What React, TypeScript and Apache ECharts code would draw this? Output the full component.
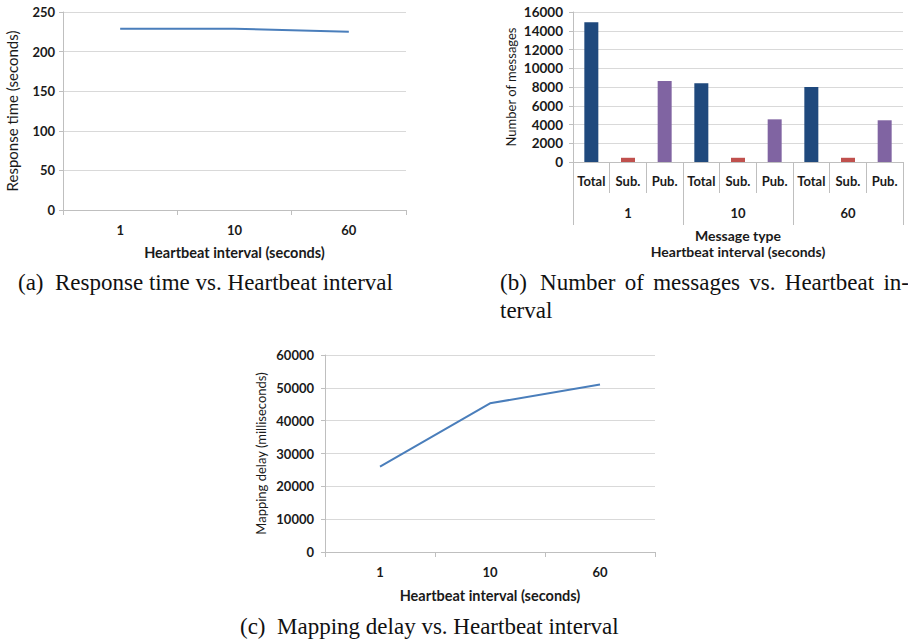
import React, { useEffect, useRef } from 'react';
import * as echarts from 'echarts';

const intervals = ['1', '10', '60'];
const responseTime = [229, 229, 225];
const messageTypes = ['Total', 'Sub.', 'Pub.'];
const totalMessages = [14900, 8400, 8000];
const subMessages = [450, 450, 450];
const pubMessages = [8650, 4550, 4450];
const mappingDelay = [26000, 45300, 51000];
const typeColors = ['#1F497D', '#C0504D', '#8064A2'];
const captionA = '(a)  Response time vs. Heartbeat interval';
const captionBWords = ['(b)', 'Number', 'of', 'messages', 'vs.', 'Heartbeat', 'in-'];
const captionB2 = 'terval';
const captionC = '(c)  Mapping delay vs. Heartbeat interval';

const FONT = 'Lato';
const SERIF = 'Liberation Serif';
const AXIS_COLOR = '#bfbfbf';
const GRID_COLOR = '#d9d9d9';
const TEXT_COLOR = '#1a1a1a';

export default function App() {
  const ref = useRef<HTMLDivElement>(null);
  useEffect(() => {
    if (!ref.current) return;
    const chart = echarts.init(ref.current, undefined, { renderer: 'svg' });

    const seriesByType = [totalMessages, subMessages, pubMessages];
    const barCats: string[] = [];
    const barData: any[] = [];
    intervals.forEach((_, i) => {
      messageTypes.forEach((t, j) => {
        barCats.push(t);
        barData.push({ value: seriesByType[j][i], itemStyle: { color: typeColors[j] } });
      });
    });

    const tickLabel = (size: number) => ({ fontFamily: FONT, fontWeight: 'bold', fontSize: size, color: TEXT_COLOR });
    const xName = { fontFamily: FONT, fontWeight: 'bold', fontSize: 14.5, color: TEXT_COLOR };
    const yName = (size: number) => ({ fontFamily: FONT, fontWeight: 'normal', fontSize: size, color: TEXT_COLOR });
    const axisLine = { show: true, lineStyle: { color: AXIS_COLOR, width: 1 } };
    const splitLine = { show: true, lineStyle: { color: GRID_COLOR, width: 1 } };
    const plain = (v: number) => String(v);

    const valueAxis = (gridIndex: number, max: number, interval: number, name: string, nameGap: number, margin: number, labelSize: number, nameSize: number) => ({
      type: 'value', gridIndex, min: 0, max, interval,
      axisLine, axisTick: { show: true, length: 4, lineStyle: { color: AXIS_COLOR } },
      splitLine, axisLabel: { ...tickLabel(labelSize), margin, formatter: plain },
      name, nameLocation: 'middle', nameGap, nameTextStyle: yName(nameSize),
    });

    const capStyle = { fontFamily: SERIF, fontSize: 23, fill: '#111' };

    // justify caption (b) first line between x=500 and x=905
    const canvas = document.createElement('canvas');
    const ctx = canvas.getContext('2d')!;
    ctx.font = `23px "${SERIF}"`;
    const widths = captionBWords.map((w) => ctx.measureText(w).width);
    const total = widths.reduce((a, b) => a + b, 0);
    const gap = (405 - total) / (captionBWords.length - 1);
    let cx = 500;
    const bWords: any[] = captionBWords.map((w, i) => {
      const el = { type: 'text', x: cx, y: 271, style: { ...capStyle, text: w } };
      cx += widths[i] + (i === 0 ? gap + 4 : gap);
      return el;
    });

    const option: any = {
      animation: false,
      backgroundColor: '#ffffff',
      grid: [
        { left: 63, top: 12, width: 343, height: 198 },
        { left: 573, top: 12, width: 330, height: 150 },
        { left: 325, top: 355, width: 330, height: 197 },
      ],
      xAxis: [
        {
          type: 'category', gridIndex: 0, data: intervals,
          axisLine, axisTick: { show: true, length: 5, lineStyle: { color: AXIS_COLOR } },
          axisLabel: { ...tickLabel(13), margin: 13 },
          name: 'Heartbeat interval (seconds)', nameLocation: 'middle', nameGap: 35, nameTextStyle: xName,
        },
        {
          type: 'category', gridIndex: 1, data: barCats,
          axisLine, axisTick: { show: true, length: 31, interval: 0, lineStyle: { color: AXIS_COLOR } },
          axisLabel: { ...tickLabel(13), interval: 0, margin: 12 },
        },
        {
          type: 'category', gridIndex: 1, data: intervals, position: 'bottom',
          axisLine: { show: false },
          axisTick: { show: true, length: 63, interval: 0, lineStyle: { color: AXIS_COLOR } },
          axisLabel: { ...tickLabel(13), interval: 0, margin: 44 },
          name: 'Message type\nHeartbeat interval (seconds)', nameLocation: 'middle', nameGap: 65,
          nameTextStyle: { ...xName, fontSize: 14, lineHeight: 16.5 },
        },
        {
          type: 'category', gridIndex: 2, data: intervals,
          axisLine, axisTick: { show: true, length: 5, lineStyle: { color: AXIS_COLOR } },
          axisLabel: { ...tickLabel(13), margin: 13 },
          name: 'Heartbeat interval (seconds)', nameLocation: 'middle', nameGap: 36, nameTextStyle: xName,
        },
      ],
      yAxis: [
        valueAxis(0, 250, 50, 'Response time (seconds)', 44, 8, 13, 15),
        valueAxis(1, 16000, 2000, 'Number of messages', 56, 10, 13.5, 13),
        valueAxis(2, 60000, 10000, 'Mapping delay (milliseconds)', 58, 11, 13, 13),
      ],
      series: [
        {
          type: 'line', xAxisIndex: 0, yAxisIndex: 0, data: responseTime,
          symbol: 'none', lineStyle: { color: '#4A7EBB', width: 2 },
        },
        {
          type: 'bar', xAxisIndex: 1, yAxisIndex: 1, data: barData, barWidth: 14,
        },
        {
          type: 'line', xAxisIndex: 3, yAxisIndex: 2, data: mappingDelay,
          symbol: 'none', lineStyle: { color: '#4A7EBB', width: 2 },
        },
      ],
      graphic: [
        { type: 'text', left: 18, top: 271, style: { ...capStyle, text: captionA } },
        ...bWords,
        { type: 'text', left: 500, top: 299, style: { ...capStyle, text: captionB2 } },
        { type: 'text', left: 240, top: 615, style: { ...capStyle, text: captionC } },
      ],
    };
    chart.setOption(option);
    return () => chart.dispose();
  }, []);
  return <div ref={ref} style={{ position: 'absolute', left: 0, top: 0, width: 908, height: 643 }} />;
}
